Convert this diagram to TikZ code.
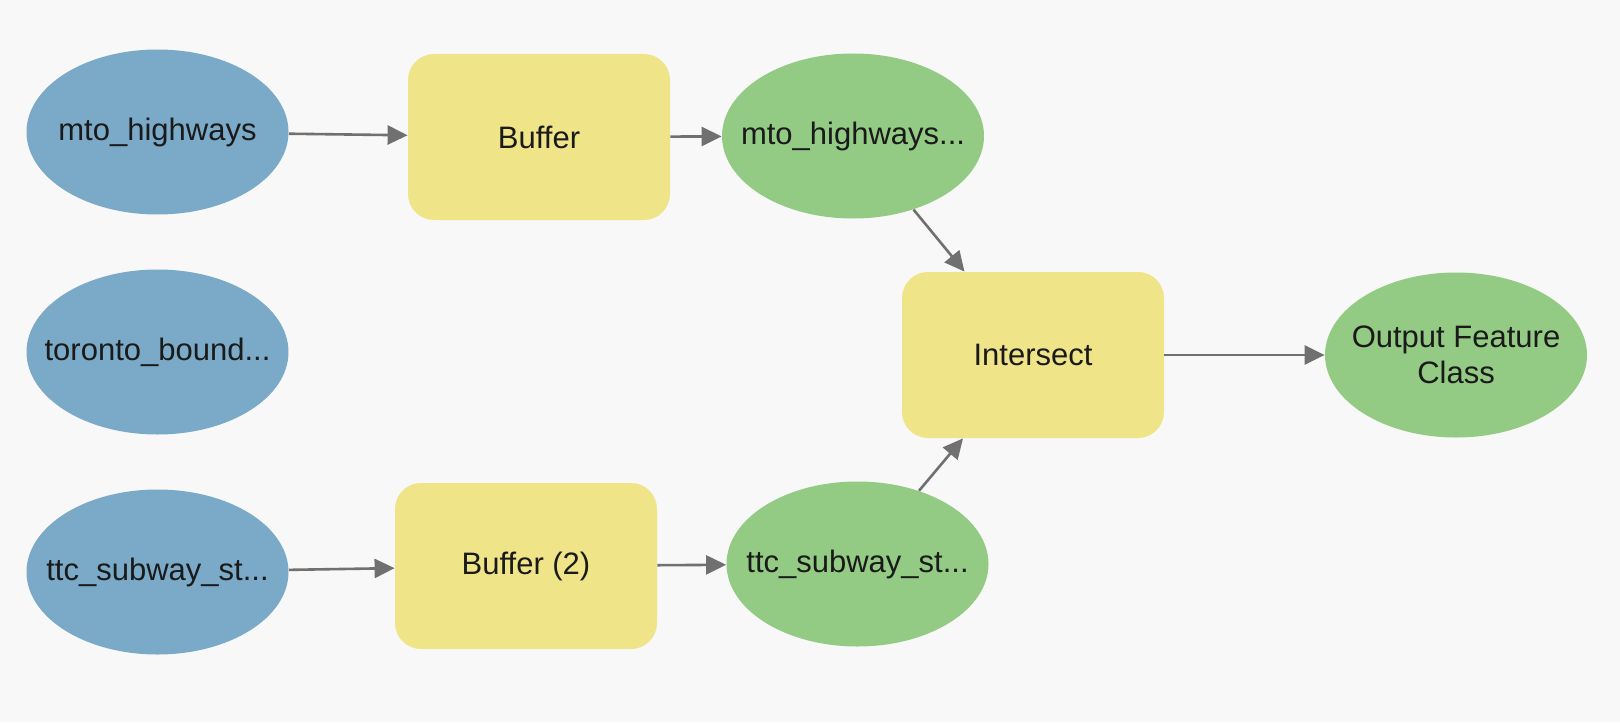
\documentclass[tikz,border=0pt]{standalone}
\usepackage{fontspec}
\setmainfont{Liberation Sans}
\usetikzlibrary{shapes.geometric,arrows.meta}
\definecolor{inputblue}{HTML}{7BAAC8}
\definecolor{toolyellow}{HTML}{F0E488}
\definecolor{resultgreen}{HTML}{93CB84}
\definecolor{canvas}{HTML}{F8F8F8}
\definecolor{linkgray}{HTML}{707070}
\definecolor{labelink}{HTML}{1A1A1A}
% labels that do not widen their ellipse
\newcommand{\dlabel}[1]{\makebox[0pt]{#1}}
\newcommand{\dlabeltwo}[2]{\makebox[0pt]{\raisebox{9pt}{#1}}\makebox[0pt]{\raisebox{-9pt}{#2}}}
\tikzset{
  dataset/.style={ellipse, inner sep=0pt, minimum width=131pt, minimum height=82.5pt,
    text=labelink, font=\fontsize{15.5}{18}\selectfont},
  indata/.style={dataset, fill=inputblue},
  outdata/.style={dataset, fill=resultgreen},
  tool/.style={rectangle, rounded corners=13pt, inner sep=0pt, minimum width=131pt,
    minimum height=83pt, fill=toolyellow, text=labelink, font=\fontsize{15.5}{18}\selectfont},
  link/.style={-{Triangle[length=10pt,width=9.5pt]}, draw=linkgray, line width=1.3pt}
}
\begin{document}
\begin{tikzpicture}[x=0.5pt,y=-0.5pt]
  \fill[canvas] (0,0) rectangle (1620,722);

  \node[indata] (hwy) at (157.5,132) {\dlabel{mto\_highways}};
  \node[indata] (bound) at (157.5,352) {\dlabel{toronto\_bound...}};
  \node[indata] (subway) at (157.5,572) {\dlabel{ttc\_subway\_st...}};

  \node[tool] (buf) at (539,137) {Buffer};
  \node[tool] (buftwo) at (526,566) {Buffer (2)};

  \node[outdata] (hwybuf) at (853,136) {\dlabel{mto\_highways...}};
  \node[outdata] (subbuf) at (857.5,564) {\dlabel{ttc\_subway\_st...}};

  \node[tool] (isect) at (1033,355) {Intersect};
  \node[outdata] (result) at (1456,355) {\dlabeltwo{Output Feature}{Class}};

  \draw[link] (hwy) -- (buf);
  \draw[link] (buf) -- (hwybuf);
  \draw[link] (subway) -- (buftwo);
  \draw[link] (buftwo) -- (subbuf);
  \draw[link] (hwybuf) -- (isect);
  \draw[link] (subbuf) -- (isect);
  \draw[link] (isect) -- (result);
\end{tikzpicture}
\end{document}
